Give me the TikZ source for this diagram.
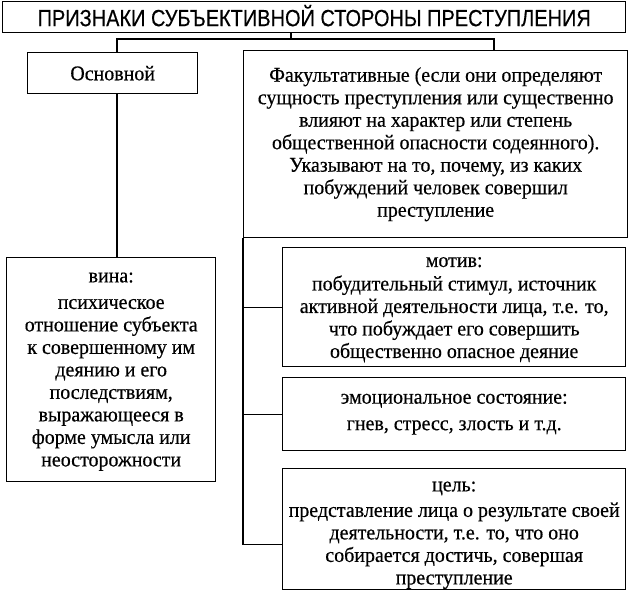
\documentclass[tikz,border=0pt]{standalone}
\usepackage{fontspec}
\setmainfont[FakeStretch=0.95,FakeBold=0.4]{Liberation Serif}
\newfontfamily\titlefont[FakeStretch=0.85,FakeBold=0.3]{Liberation Sans}
\begin{document}
\begin{tikzpicture}[x=1pt,y=-1pt,
  box/.style={draw=black, line width=1.4pt, rectangle, inner sep=0pt, anchor=north west},
  txt/.style={inner sep=0pt, align=center, font=\fontsize{21}{22.5}\selectfont, text=black},
  link/.style={draw=black, line width=1.4pt}]
\useasboundingbox (0,0) rectangle (630,592);
\node[box, minimum width=623pt, minimum height=31pt] (title) at (2,1) {};
\node[txt, font=\titlefont\fontsize{23.5}{24}\selectfont] (titlet) at ([yshift=1.5pt]title.center)
  {ПРИЗНАКИ СУБЪЕКТИВНОЙ СТОРОНЫ ПРЕСТУПЛЕНИЯ};
\node[box, minimum width=170pt, minimum height=41pt] (osn) at (27,52) {};
\node[txt] (osnt) at (osn.center) {Основной};
\node[box, minimum width=384pt, minimum height=187pt] (fak) at (243,50) {};
\node[txt] (fakt) at (fak.center)
  {Факультативные (если они определяют\\сущность преступления или существенно\\влияют на характер или степень\\общественной опасности содеянного).\\Указывают на то, почему, из каких\\побуждений человек совершил\\преступление};
\node[box, minimum width=209pt, minimum height=224pt] (vina) at (6,257) {};
\node[txt] (vinat) at ([yshift=-2pt]vina.center)
  {вина:\\[4pt]психическое\\отношение субъекта\\к совершенному им\\деянию и его\\последствиям,\\выражающееся в\\форме умысла или\\неосторожности};
\node[box, minimum width=343pt, minimum height=119pt] (motiv) at (282,247) {};
\node[txt] (motivt) at ([yshift=-2.5pt]motiv.center)
  {мотив:\\[1pt]побудительный стимул, источник\\активной деятельности лица, т.е. то,\\что побуждает его совершить\\общественно опасное деяние};
\node[box, minimum width=343pt, minimum height=73pt] (emo) at (282,377) {};
\node[txt] (emot) at (emo.center)
  {эмоциональное состояние:\\[4pt]гнев, стресс, злость и т.д.};
\node[box, minimum width=343pt, minimum height=121pt] (cel) at (282,468) {};
\node[txt] (celt) at ([yshift=-6pt]cel.center)
  {цель:\\[3pt]представление лица о результате своей\\деятельности, т.е. то, что оно\\собирается достичь, совершая\\преступление};
\coordinate (j) at (291,39);
\coordinate (jl) at (117,39);
\coordinate (jr) at (494,39);
\draw[link] (title.south -| j) -- (j);
\draw[link] (jl |- osn.north) -- (jl) -- (jr) -- (jr |- fak.north);
\draw[link] (jl |- osn.south) -- (jl |- vina.north);
\draw[link] (fak.south west) |- ([yshift=-15pt]cel.west);
\draw[link] (fak.south west |- motiv.west) -- (motiv.west);
\draw[link] (fak.south west |- emo.west) -- (emo.west);
\end{tikzpicture}
\end{document}
